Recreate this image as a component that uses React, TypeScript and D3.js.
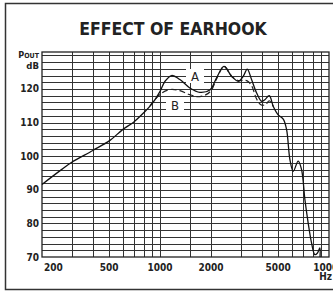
import React, { useEffect, useRef } from 'react';
import * as d3 from 'd3';

// curve A (solid): frequency in Hz, level in dB
const freqA = [200, 256, 300, 400, 505, 600, 700, 800, 900, 1000, 1070, 1170, 1310, 1500, 1720, 1980, 2160, 2390, 2650, 2900, 3110, 3280, 3480, 3730, 4000, 4170, 4430, 4680, 5000, 5360, 5610, 5870, 6140, 6570, 6880, 7200, 7530, 7890, 8250, 8550, 8830, 8850];
const dbA = [91.6, 95.7, 98.2, 101.7, 104.7, 107.9, 110.2, 112.9, 115.7, 119.3, 122.3, 124.0, 122.8, 120.3, 119.0, 119.8, 123.3, 126.7, 123.8, 122.3, 123.8, 125.9, 122.8, 118.8, 116.3, 116.8, 118.0, 114.8, 112.3, 111.0, 107.9, 99.0, 95.5, 98.5, 96.0, 87.1, 80.1, 74.1, 70.7, 71.2, 72.7, 70.0];

// curve B (dashed), only where it leaves A
const freqB = [870, 1000, 1140, 1310, 1500, 1720, 1980, 2160, 2390, 2650, 2900, 3110, 3280, 3480, 3730, 3950, 4200, 4430, 4680];
const dbB = [115.0, 118.4, 119.8, 119.5, 118.3, 117.7, 119.2, 123.0, 126.7, 123.8, 122.5, 122.6, 122.4, 121.0, 117.0, 115.3, 115.3, 116.5, 114.8];

const xTicks = [200, 500, 1000, 2000, 5000, 10000];
const xGrid = [300, 400, 500, 600, 700, 800, 900, 1000, 1500, 2000, 3000, 4000, 5000, 6000, 7000, 8000, 9000];
const yTicks = [70, 80, 90, 100, 110, 120];
const yGrid = d3.range(72, 131, 2);

const W = 333;
const H = 291;
const font = '"DejaVu Sans Condensed", "Liberation Sans Narrow", sans-serif';

const App = () => {
  const svgRef = useRef<SVGSVGElement>(null);

  useEffect(() => {
    const svg = d3.select(svgRef.current);
    svg.selectAll('*').remove();

    const x = d3.scaleLog().domain([200, 10000]).range([42, 329]);
    const y = d3.scaleLinear().domain([70, 131]).range([257, 52]);

    // outer frame
    svg.append('rect')
      .attr('x', 5.5).attr('y', 3.5)
      .attr('width', 340).attr('height', 286)
      .attr('fill', 'white')
      .attr('stroke', '#333').attr('stroke-width', 1.5);

    svg.append('text')
      .attr('x', 173).attr('y', 35)
      .attr('text-anchor', 'middle')
      .attr('font-family', font).attr('font-weight', 'bold')
      .attr('font-size', 17.5).attr('fill', '#222')
      .text('EFFECT OF EARHOOK');

    const g = svg.append('g');
    const [x0, x1] = x.range();
    const [y0, y1] = y.range();

    // grid
    g.selectAll('.hg').data(yGrid).enter().append('line')
      .attr('x1', x0).attr('x2', x1)
      .attr('y1', d => Math.round(y(d)) + 0.5).attr('y2', d => Math.round(y(d)) + 0.5)
      .attr('stroke', '#333').attr('stroke-width', 1);
    g.selectAll('.vg').data(xGrid).enter().append('line')
      .attr('y1', y1).attr('y2', y0)
      .attr('x1', d => Math.round(x(d)) + 0.5).attr('x2', d => Math.round(x(d)) + 0.5)
      .attr('stroke', '#333').attr('stroke-width', 1);
    g.append('rect')
      .attr('x', x0).attr('y', y1)
      .attr('width', x1 - x0).attr('height', y0 - y1)
      .attr('fill', 'none').attr('stroke', '#222').attr('stroke-width', 1.3);

    // curves
    const line = d3.line<[number, number]>()
      .x(d => x(d[0])).y(d => y(d[1]))
      .curve(d3.curveCatmullRom.alpha(0.5));

    g.append('path')
      .attr('d', line(freqB.map((f, i) => [f, dbB[i]])))
      .attr('fill', 'none').attr('stroke', '#222')
      .attr('stroke-width', 1.2).attr('stroke-dasharray', '6,3');
    g.append('path')
      .attr('d', line(freqA.map((f, i) => [f, dbA[i]])))
      .attr('fill', 'none').attr('stroke', '#111').attr('stroke-width', 1.3);

    // curve labels
    const labels = [
      { t: 'A', cx: 195, cy: 76 },
      { t: 'B', cx: 175, cy: 105 },
    ];
    labels.forEach(l => {
      g.append('rect')
        .attr('x', l.cx - 9).attr('y', l.cy - 7)
        .attr('width', 18).attr('height', 14)
        .attr('fill', 'white');
      g.append('text')
        .attr('x', l.cx).attr('y', l.cy + 4.5)
        .attr('text-anchor', 'middle')
        .attr('font-family', font).attr('font-size', 13).attr('fill', '#222')
        .text(l.t);
    });

    // y axis labels
    svg.selectAll('.yl').data(yTicks).enter().append('text')
      .attr('x', 39).attr('y', d => y(d) + 3.5)
      .attr('text-anchor', 'end')
      .attr('font-family', font).attr('font-weight', 'bold')
      .attr('font-size', 10).attr('fill', '#222')
      .text(d => d);

    const pout = svg.append('text')
      .attr('x', 39).attr('y', 58)
      .attr('text-anchor', 'end')
      .attr('font-family', font).attr('font-weight', 'bold')
      .attr('font-size', 9).attr('fill', '#222');
    pout.append('tspan').text('P');
    pout.append('tspan').attr('font-size', 7).text('OUT');
    svg.append('text')
      .attr('x', 39).attr('y', 69)
      .attr('text-anchor', 'end')
      .attr('font-family', font).attr('font-weight', 'bold')
      .attr('font-size', 9.5).attr('fill', '#222')
      .text('dB');

    // x axis labels
    svg.selectAll('.xl').data(xTicks).enter().append('text')
      .attr('x', d => (d === 200 ? x(d) + 2 : x(d)))
      .attr('y', 271)
      .attr('text-anchor', d => (d === 200 ? 'start' : 'middle'))
      .attr('font-family', font).attr('font-weight', 'bold')
      .attr('font-size', 10).attr('fill', '#222')
      .text(d => d);
    svg.append('text')
      .attr('x', 332).attr('y', 280)
      .attr('text-anchor', 'end')
      .attr('font-family', font).attr('font-weight', 'bold')
      .attr('font-size', 10).attr('fill', '#222')
      .text('Hz');
  }, []);

  return (
    <svg
      ref={svgRef}
      width={W}
      height={H}
      style={{ position: 'absolute', left: 0, top: 0, background: 'white' }}
    />
  );
};

export default App;
